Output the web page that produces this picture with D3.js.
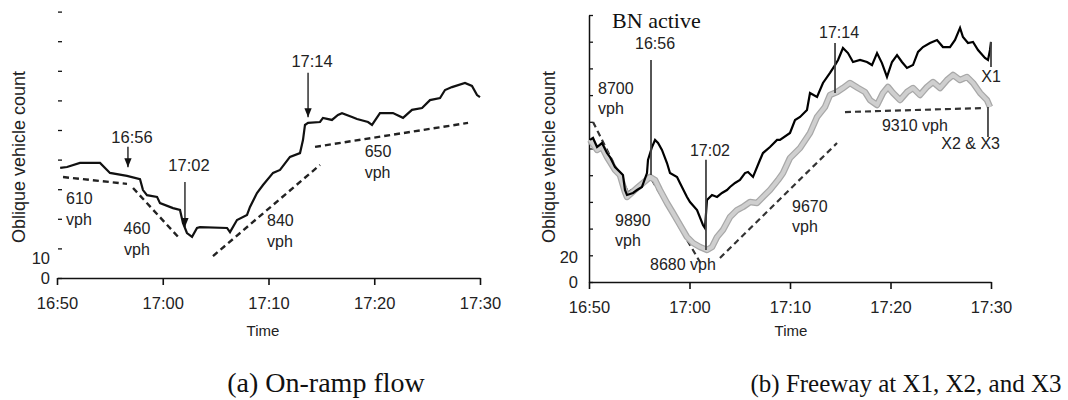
<!DOCTYPE html>
<html>
<head>
<meta charset="utf-8">
<script src="https://cdn.jsdelivr.net/npm/d3@7"></script>
<style>
  body { margin: 0; background: #fff; }
  svg { display: block; }
  text { font-family: "Liberation Sans", Arial, sans-serif; fill: #222; }
  .serif { font-family: "Liberation Serif", "Times New Roman", serif; fill: #111; }
</style>
</head>
<body>
<svg id="chart"></svg>
<script>
const width = 1068;
const height = 400;

// minutes after 16:50
const tickMinutes = [0, 10, 20, 30, 40];
const tickLabels = ["16:50", "17:00", "17:10", "17:20", "17:30"];

// (a) on-ramp oblique count  [minute, count]
const rampFlow = [
  [0.3, 37.2], [0.95, 37.5], [2.17, 38.9], [4.07, 38.9], [4.73, 36.5], [5.01, 35.5],
  [6.62, 34.5], [7.85, 33.4], [8.13, 29.7], [8.51, 28.0], [9.46, 27.4], [9.74, 25.3],
  [10.97, 23.6], [11.63, 23.0], [11.91, 18.6], [12.29, 15.2], [12.77, 13.9], [13.24, 16.9],
  [13.52, 17.2], [16.08, 16.9], [16.36, 15.5], [17.02, 19.6], [17.97, 21.3], [18.25, 24.0],
  [18.91, 28.7], [19.48, 31.4], [20.43, 35.5], [21.09, 36.5], [22.03, 40.9], [22.98, 42.2],
  [23.26, 46.6], [23.45, 51.7], [23.74, 52.4], [24.87, 52.7], [25.15, 54.1], [26.0, 53.4],
  [26.57, 55.1], [26.95, 55.7], [27.9, 54.4], [28.37, 53.7], [29.41, 52.7], [29.79, 51.7],
  [30.54, 55.7], [31.77, 55.7], [32.72, 54.1], [33.57, 56.8], [34.52, 57.4], [35.27, 60.1],
  [36.22, 60.8], [36.69, 63.5], [37.35, 64.5], [38.58, 65.9], [39.24, 64.9], [39.72, 61.8],
  [40.0, 61.1]
];
const rampRates = [
  [[0.57, 34.1], [6.62, 31.8]],
  [[7.19, 30.4], [11.63, 13.2]],
  [[14.75, 7.4], [24.87, 38.2]],
  [[24.4, 44.3], [38.87, 52.4]]
];
const rampRateLabels = [
  { t: 0.85, v: 26.4, lines: ["610", "vph"], anchor: "start" },
  { t: 7.56, v: 16.2, lines: ["460", "vph"], anchor: "middle" },
  { t: 19.86, v: 18.9, lines: ["840", "vph"], anchor: "start" },
  { t: 29.1, v: 42.2, lines: ["650", "vph"], anchor: "start" }
];
const rampTimes = [
  { label: "16:56", t: 6.71, top: 44.3, tip: 37.4, text: 45.6 },
  { label: "17:02", t: 12.1, top: 32.4, tip: 17.2, text: 36.1 },
  { label: "17:14", t: 23.74, top: 69.3, tip: 54.3, text: 71.3 }
];

// (b) freeway oblique counts  [minute, count]
const freewayX1 = [
  [0.1, 106.4], [0.4, 107.9], [0.8, 101.1], [1.29, 104.1], [1.79, 96.6], [2.09, 93.6],
  [2.59, 86.1], [3.08, 82.4], [3.38, 80.1], [3.58, 68.9], [3.78, 65.2], [4.38, 66.7],
  [4.78, 68.9], [5.27, 71.2], [5.77, 81.6], [5.87, 91.4], [6.27, 101.1], [6.57, 106.4],
  [6.87, 104.1], [7.26, 98.9], [7.76, 89.1], [8.06, 81.6], [8.76, 78.7], [9.05, 74.2],
  [9.75, 63.7], [10.05, 59.9], [10.75, 53.9], [11.34, 42.7], [11.54, 40.4], [11.74, 61.4],
  [12.24, 65.2], [12.74, 63.7], [13.23, 66.7], [13.73, 68.9], [14.03, 71.2], [14.53, 74.2],
  [15.02, 76.4], [15.52, 81.6], [15.82, 82.4], [16.32, 78.7], [17.01, 91.4], [17.31, 96.6],
  [18.01, 101.1], [18.71, 106.4], [19.0, 106.4], [20.0, 111.6], [20.5, 121.3], [21.0, 123.6],
  [21.69, 128.8], [21.99, 141.6], [22.69, 138.6], [23.28, 149.1], [23.98, 156.6], [24.48, 162.5],
  [24.78, 166.3], [25.27, 175.3], [25.77, 171.5], [26.27, 164.8], [26.97, 166.3], [27.66, 164.8],
  [28.16, 162.5], [28.66, 171.5], [29.15, 164.0], [29.65, 153.6], [30.15, 164.8], [30.65, 170.0],
  [31.14, 164.8], [31.64, 160.3], [32.24, 162.5], [32.74, 172.3], [33.23, 176.0], [33.93, 179.0],
  [34.63, 181.3], [35.22, 176.0], [35.92, 176.0], [36.42, 181.3], [36.92, 190.3], [37.21, 183.5],
  [37.71, 179.0], [38.21, 179.8], [38.71, 173.8], [39.4, 167.8], [39.7, 166.3], [39.9, 173.8],
  [40.0, 179.8]
];
const freewayX2X3 = [
  [0.1, 106.4], [0.8, 98.9], [1.29, 101.1], [1.79, 93.6], [2.59, 83.9], [3.08, 80.1],
  [3.58, 67.4], [3.78, 63.7], [4.78, 70.4], [5.37, 74.2], [6.07, 78.7], [6.57, 76.4],
  [7.06, 68.9], [7.76, 59.2], [8.36, 51.7], [9.05, 42.7], [9.75, 33.7], [10.35, 29.2],
  [11.04, 26.2], [11.74, 24.0], [12.24, 26.2], [12.74, 33.7], [13.33, 39.0], [14.03, 48.7],
  [14.73, 53.9], [15.32, 56.2], [16.02, 59.9], [16.72, 59.2], [17.31, 63.7], [18.01, 68.9],
  [18.81, 76.4], [19.3, 81.6], [20.0, 92.9], [21.0, 100.4], [21.99, 111.6], [22.69, 123.6],
  [23.48, 131.1], [23.98, 140.1], [24.68, 142.3], [25.27, 145.3], [25.97, 149.1], [26.77, 145.3],
  [27.46, 142.3], [27.96, 136.3], [28.66, 132.6], [29.25, 141.6], [29.75, 146.1], [30.25, 141.6],
  [30.95, 136.3], [31.64, 142.3], [32.24, 145.3], [32.94, 140.1], [33.63, 146.1], [34.23, 149.8],
  [34.93, 145.3], [35.62, 151.3], [36.22, 155.1], [36.92, 151.3], [37.61, 153.6], [38.21, 149.1],
  [38.91, 141.6], [39.6, 136.3], [39.9, 131.1]
];
const freewayRates = [
  [[0.4, 119.9], [3.88, 67.4]],
  [[3.78, 66.7], [6.07, 77.9]],
  [[6.27, 76.4], [11.04, 15.0]],
  [[13.03, 18.0], [24.68, 104.1]],
  [[25.47, 127.3], [39.2, 130.3]]
];
const freewayRateLabels = [
  { t: 0.9, v: 143.8, lines: ["8700", "vph"], anchor: "start" },
  { t: 2.59, v: 44.9, lines: ["9890", "vph"], anchor: "start" },
  { t: 6.07, v: 12.0, lines: ["8680 vph"], anchor: "start" },
  { t: 20.2, v: 55.4, lines: ["9670", "vph"], anchor: "start" },
  { t: 29.15, v: 116.1, lines: ["9310 vph"], anchor: "start" }
];
const freewayTimes = [
  { label: "16:56", t: 6.17, top: 166.3, tip: 80.1, text: 174.5 },
  { label: "17:02", t: 11.64, top: 91.5, tip: 24.0, text: 94.4 },
  { label: "17:14", t: 24.48, top: 179.0, tip: 141.6, text: 182.8 }
];
const freewayStations = [
  { label: "X1", t: 40.0, top: 179.8, tip: 161.0, text: 152.8, anchor: "middle" },
  { label: "X2 & X3", t: 39.7, top: 131.0, tip: 108.6, text: 102.6, anchor: "end" }
];

const svg = d3.select("#chart").attr("width", width).attr("height", height);

svg.append("defs").append("marker")
  .attr("id", "arrow")
  .attr("viewBox", "0 0 10 10")
  .attr("refX", 10).attr("refY", 5)
  .attr("markerWidth", 7).attr("markerHeight", 7)
  .attr("orient", "auto")
  .append("path").attr("d", "M0,1 L10,5 L0,9 Z").attr("fill", "#111");

function panel(opts) {
  const x = d3.scaleLinear().domain([0, 40]).range(opts.xRange);
  const y = d3.scaleLinear().domain(opts.yDomain).range(opts.yRange);
  const g = svg.append("g");

  // x axis
  const xAxis = g.append("g")
    .attr("transform", `translate(0,${opts.yRange[0]})`)
    .call(d3.axisBottom(x).tickValues(tickMinutes)
      .tickFormat((d, i) => tickLabels[i]).tickSize(7).tickSizeOuter(0).tickPadding(12));
  xAxis.selectAll("path, line").attr("stroke", "#111").attr("stroke-width", 1.6);
  xAxis.selectAll("text").attr("font-size", 16.5).attr("fill", "#222")
    .attr("font-family", "Liberation Sans, Arial, sans-serif");

  // y axis (inward ticks, only the lowest values labelled)
  const yAxis = g.append("g")
    .attr("transform", `translate(${opts.yAxisX},0)`)
    .call(d3.axisLeft(y).tickValues(opts.yTicks)
      .tickFormat(d => opts.yLabels.includes(d) ? d : "")
      .tickSizeInner(-4).tickSizeOuter(0).tickPadding(opts.yPad));
  yAxis.select(".domain").attr("stroke", opts.yLine ? "#111" : "none").attr("stroke-width", 1.5);
  yAxis.selectAll("line").attr("stroke", "#111").attr("stroke-width", 1.3);
  yAxis.selectAll("text").attr("font-size", 16.5).attr("fill", "#222")
    .attr("font-family", "Liberation Sans, Arial, sans-serif")
    .attr("dy", d => d === 0 ? "0.32em" : opts.labelDy);

  g.append("text")
    .attr("transform", `translate(${opts.titleX},157) rotate(-90)`)
    .attr("text-anchor", "middle")
    .attr("font-size", 18)
    .text("Oblique vehicle count");

  g.append("text")
    .attr("x", opts.timeX).attr("y", 336)
    .attr("text-anchor", "middle").attr("font-size", 15)
    .text("Time");

  g.append("text")
    .attr("class", "serif")
    .attr("x", opts.captionX).attr("y", 392)
    .attr("text-anchor", "middle").attr("font-size", opts.captionSize)
    .text(opts.caption);

  return { g, x, y };
}

// ---------- (a) On-ramp flow
const a = panel({
  xRange: [57, 480], yDomain: [0, 90], yRange: [278, 11.6],
  yTicks: d3.range(0, 100, 10), yLabels: [0, 10], yAxisX: 58, yPad: 8, yLine: false, labelDy: "0.9em",
  titleX: 25, timeX: 263, captionX: 326, caption: "(a) On-ramp flow", captionSize: 28
});

const lineA = d3.line().x(d => a.x(d[0])).y(d => a.y(d[1]));

a.g.selectAll(".rate").data(rampRates).join("path")
  .attr("d", lineA).attr("fill", "none")
  .attr("stroke", "#222").attr("stroke-width", 2.4).attr("stroke-dasharray", "6,4");

a.g.append("path").datum(rampFlow)
  .attr("d", lineA).attr("fill", "none")
  .attr("stroke", "#111").attr("stroke-width", 2.2);

rampRateLabels.forEach(d => {
  const t = a.g.append("text")
    .attr("x", a.x(d.t)).attr("y", a.y(d.v))
    .attr("text-anchor", d.anchor).attr("font-size", 16).attr("dominant-baseline", "middle");
  d.lines.forEach((s, i) => t.append("tspan").attr("x", a.x(d.t)).attr("dy", i ? 21 : 0).text(s));
});

rampTimes.forEach(d => {
  a.g.append("line")
    .attr("x1", a.x(d.t)).attr("x2", a.x(d.t))
    .attr("y1", a.y(d.top)).attr("y2", a.y(d.tip))
    .attr("stroke", "#111").attr("stroke-width", 1.3).attr("marker-end", "url(#arrow)");
  a.g.append("text")
    .attr("x", a.x(d.t) + 4).attr("y", a.y(d.text))
    .attr("text-anchor", "middle").attr("font-size", 16.5)
    .text(d.label);
});

// ---------- (b) Freeway at X1, X2, and X3
const b = panel({
  xRange: [589, 991], yDomain: [0, 200], yRange: [282, 15],
  yTicks: d3.range(0, 220, 20), yLabels: [0, 20], yAxisX: 589, yPad: 11, yLine: true, labelDy: "0.45em",
  titleX: 555, timeX: 791, captionX: 906, caption: "(b) Freeway at X1, X2, and X3", captionSize: 25
});

const lineB = d3.line().x(d => b.x(d[0])).y(d => b.y(d[1]));

b.g.selectAll(".rate").data(freewayRates).join("path")
  .attr("d", lineB).attr("fill", "none")
  .attr("stroke", "#333").attr("stroke-width", 2.2).attr("stroke-dasharray", "6,4");

b.g.append("path").datum(freewayX2X3)
  .attr("d", lineB).attr("fill", "none")
  .attr("stroke", "#a8a8a8").attr("stroke-width", 6.5).attr("stroke-linejoin", "round");
b.g.append("path").datum(freewayX2X3)
  .attr("d", lineB).attr("fill", "none")
  .attr("stroke", "#cfcfcf").attr("stroke-width", 4).attr("stroke-linejoin", "round");

b.g.append("path").datum(freewayX1)
  .attr("d", lineB).attr("fill", "none")
  .attr("stroke", "#000").attr("stroke-width", 2.2);

freewayRateLabels.forEach(d => {
  const t = b.g.append("text")
    .attr("x", b.x(d.t)).attr("y", b.y(d.v))
    .attr("text-anchor", d.anchor).attr("font-size", 16).attr("dominant-baseline", "middle");
  d.lines.forEach((s, i) => t.append("tspan").attr("x", b.x(d.t)).attr("dy", i ? 20 : 0).text(s));
});

freewayTimes.concat(freewayStations).forEach(d => {
  b.g.append("line")
    .attr("x1", b.x(d.t)).attr("x2", b.x(d.t))
    .attr("y1", b.y(d.top)).attr("y2", b.y(d.tip))
    .attr("stroke", "#444").attr("stroke-width", 1.8);
  b.g.append("text")
    .attr("x", d.anchor === "end" ? b.x(d.t) + 12 : b.x(d.t) + (d.anchor ? 0 : 4))
    .attr("y", b.y(d.text))
    .attr("text-anchor", d.anchor || "middle").attr("font-size", 16)
    .attr("dominant-baseline", d.anchor ? "middle" : "auto")
    .text(d.label);
});

b.g.append("text")
  .attr("class", "serif")
  .attr("x", b.x(2.3)).attr("y", b.y(190))
  .attr("font-size", 22)
  .text("BN active");
</script>
</body>
</html>
